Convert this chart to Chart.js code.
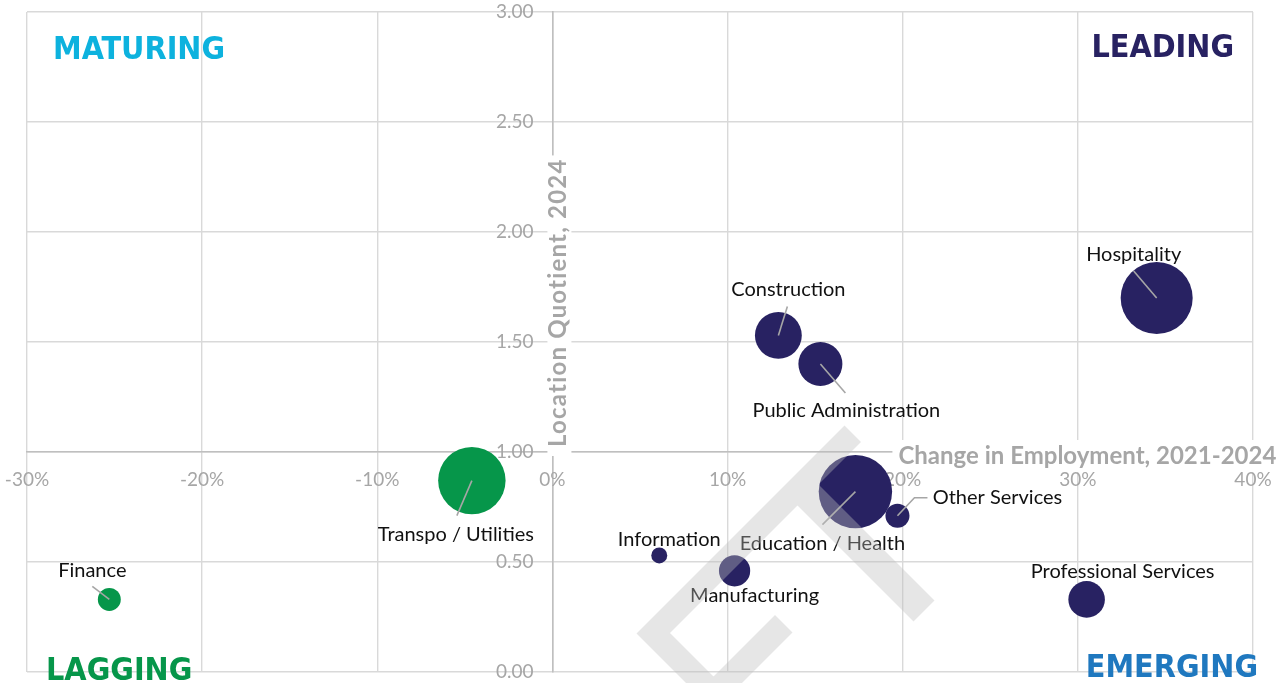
<!DOCTYPE html>
<html>
<head>
<meta charset="utf-8">
<script src="https://cdn.jsdelivr.net/npm/chart.js@4/dist/chart.umd.min.js"></script>
<style>
  html, body { margin: 0; padding: 0; background: #fff; }
  #wrap { width: 1288px; height: 683px; position: relative; }
</style>
</head>
<body>
<div id="wrap"><canvas id="quadChart"></canvas></div>
<script>
// industry sectors: change in employment (x), location quotient (y), employment (bubble area)
const sectors = ['Hospitality', 'Construction', 'Public Administration', 'Education / Health', 'Other Services',
                 'Professional Services', 'Information', 'Manufacturing', 'Transpo / Utilities', 'Finance'];
const employmentChange = [0.345, 0.129, 0.153, 0.173, 0.197, 0.305, 0.061, 0.104, -0.046, -0.253];
const locationQuotient = [1.70, 1.53, 1.40, 0.82, 0.71, 0.33, 0.53, 0.46, 0.87, 0.33];
const employment2024 = [13000, 5500, 4850, 13500, 1450, 3350, 640, 2450, 11400, 1320];

const xRange = [-0.3, 0.4];
const yRange = [0, 3];
const quadrantNames = ['MATURING', 'LEADING', 'LAGGING', 'EMERGING'];
const xTitle = 'Change in Employment, 2021-2024';
const yTitle = 'Location Quotient, 2024';

const navy = '#282262';
const green = '#06964a';
const gridGray = '#d9d9d9';
const textGray = '#a6a6a6';

// where each label sits relative to its bubble, and the leader line points
const labelPlacement = {
  'Hospitality':           { dx: -23, dy: -43, leader: [[-23, -27]] },
  'Construction':          { dx: 10,  dy: -46, leader: [[9, -29]] },
  'Public Administration': { dx: 26,  dy: 47,  leader: [[25, 29]] },
  'Education / Health':    { dx: -33, dy: 52,  leader: [[-33, 33]] },
  'Other Services':        { dx: 100, dy: -18, leader: [[17, -18], [30, -18]] },
  'Professional Services': { dx: 36,  dy: -28, leader: null },
  'Information':           { dx: 10,  dy: -16, leader: null },
  'Manufacturing':         { dx: 20,  dy: 25,  leader: null },
  'Transpo / Utilities':   { dx: -16, dy: 54,  leader: [[-15, 35]] },
  'Finance':               { dx: -17, dy: -29, leader: [[-17, -13]] }
};

const maxJobs = Math.max(...employment2024);
const points = sectors.map((s, i) => ({
  x: employmentChange[i],
  y: locationQuotient[i],
  r: 36.7 * Math.sqrt(employment2024[i] / maxJobs)
}));
const pointColors = employmentChange.map(v => v < 0 ? green : navy);

// tick labels + axis titles, under the bubbles
const axisDecor = {
  id: 'axisDecor',
  beforeDatasetsDraw(chart) {
    const { ctx, scales: { x, y } } = chart;
    const x0 = x.getPixelForValue(0);
    const y1 = y.getPixelForValue(1);
    ctx.save();
    ctx.font = '19px Lato';
    ctx.fillStyle = textGray;
    ctx.textBaseline = 'middle';
    ctx.textAlign = 'center';
    x.ticks.forEach(t => {
      ctx.fillText(Math.round(t.value * 100) + '%', x.getPixelForValue(t.value), y1 + 28);
    });
    ctx.textAlign = 'right';
    y.ticks.forEach(t => {
      ctx.fillText(t.value.toFixed(2), x0 - 19, y.getPixelForValue(t.value));
    });

    // titles sit on a white box that hides the axis lines behind them
    ctx.font = 'bold 24px Lato';
    ctx.textBaseline = 'alphabetic';
    const wx = ctx.measureText(xTitle).width;
    ctx.fillStyle = '#fff';
    ctx.fillRect(x0 + 340, y1 - 12, wx + 12, 32);
    ctx.fillStyle = textGray;
    ctx.textAlign = 'left';
    ctx.fillText(xTitle, x0 + 346, y1 + 12);

    ctx.letterSpacing = '1.2px';
    const wy = ctx.measureText(yTitle).width;
    ctx.fillStyle = '#fff';
    ctx.fillRect(x0 - 5, y1 - wy - 8, 24, wy + 12);
    ctx.save();
    ctx.translate(x0 + 14, y1 - 5 - wy / 2);
    ctx.rotate(-Math.PI / 2);
    ctx.textAlign = 'center';
    ctx.fillStyle = textGray;
    ctx.fillText(yTitle, 0, 0);
    ctx.restore();
    ctx.restore();
  },

  afterDatasetsDraw(chart) {
    const { ctx, chartArea: a } = chart;
    const meta = chart.getDatasetMeta(0);
    ctx.save();
    // leader lines and sector names
    meta.data.forEach((el, i) => {
      const p = labelPlacement[sectors[i]];
      if (p.leader) {
        ctx.strokeStyle = textGray;
        ctx.lineWidth = 1.6;
        ctx.beginPath();
        ctx.moveTo(el.x, el.y);
        p.leader.forEach(([lx, ly]) => ctx.lineTo(el.x + lx, el.y + ly));
        ctx.stroke();
      }
      ctx.font = '20px Lato';
      ctx.fillStyle = '#111';
      ctx.textAlign = 'center';
      ctx.textBaseline = 'middle';
      ctx.fillText(sectors[i], el.x + p.dx, el.y + p.dy);
    });

    // quadrant names
    ctx.font = 'bold 32px "DejaVu Sans Condensed", "DejaVu Sans"';
    ctx.textBaseline = 'alphabetic';
    ctx.textAlign = 'left';
    ctx.fillStyle = '#0db2de';
    ctx.fillText(quadrantNames[0], a.left + 26, a.top + 47);
    ctx.fillStyle = green;
    ctx.fillText(quadrantNames[2], a.left + 19, a.bottom + 8);
    ctx.textAlign = 'right';
    ctx.fillStyle = navy;
    ctx.fillText(quadrantNames[1], a.right - 19, a.top + 45);
    ctx.fillStyle = '#1f78bf';
    ctx.fillText(quadrantNames[3], a.right + 5, a.bottom + 5);
    ctx.restore();
  },

  // faint stamp over the lower middle
  afterDraw(chart) {
    const ctx = chart.ctx;
    const pt = (s, t) => [(s + t) / 2, (s - t) / 2];
    const bars = [
      [1270, 1303, 3, 419],
      [1270, 1430, 3, 37],
      [1390, 1425, 3, 160],
      [1303, 1535, 292, 334]
    ];
    ctx.save();
    ctx.fillStyle = 'rgba(188,188,188,0.38)';
    ctx.beginPath();
    bars.forEach(([s0, s1, t0, t1]) => {
      ctx.moveTo(...pt(s0, t0));
      ctx.lineTo(...pt(s1, t0));
      ctx.lineTo(...pt(s1, t1));
      ctx.lineTo(...pt(s0, t1));
      ctx.closePath();
    });
    ctx.fill('nonzero');
    ctx.restore();
  }
};

new Chart(document.getElementById('quadChart'), {
  type: 'bubble',
  data: {
    datasets: [{
      data: points,
      backgroundColor: pointColors,
      borderWidth: 0
    }]
  },
  options: {
    responsive: true,
    maintainAspectRatio: false,
    animation: false,
    layout: { autoPadding: false, padding: { left: 27, top: 12, right: 35, bottom: 11 } },
    plugins: { legend: { display: false }, tooltip: { enabled: false } },
    scales: {
      x: {
        type: 'linear',
        min: xRange[0],
        max: xRange[1],
        position: { y: 1 },
        ticks: { stepSize: 0.1, display: false },
        grid: { color: gridGray, lineWidth: 1.4, drawTicks: false },
        border: { color: '#bfbfbf', width: 1.6 },
        afterFit: s => { s.height = 0; }
      },
      y: {
        type: 'linear',
        min: yRange[0],
        max: yRange[1],
        position: { x: 0 },
        ticks: { stepSize: 0.5, display: false },
        grid: { color: gridGray, lineWidth: 1.4, drawTicks: false },
        border: { color: '#bfbfbf', width: 1.6 },
        afterFit: s => { s.width = 0; }
      }
    }
  },
  plugins: [axisDecor]
});
</script>
</body>
</html>
